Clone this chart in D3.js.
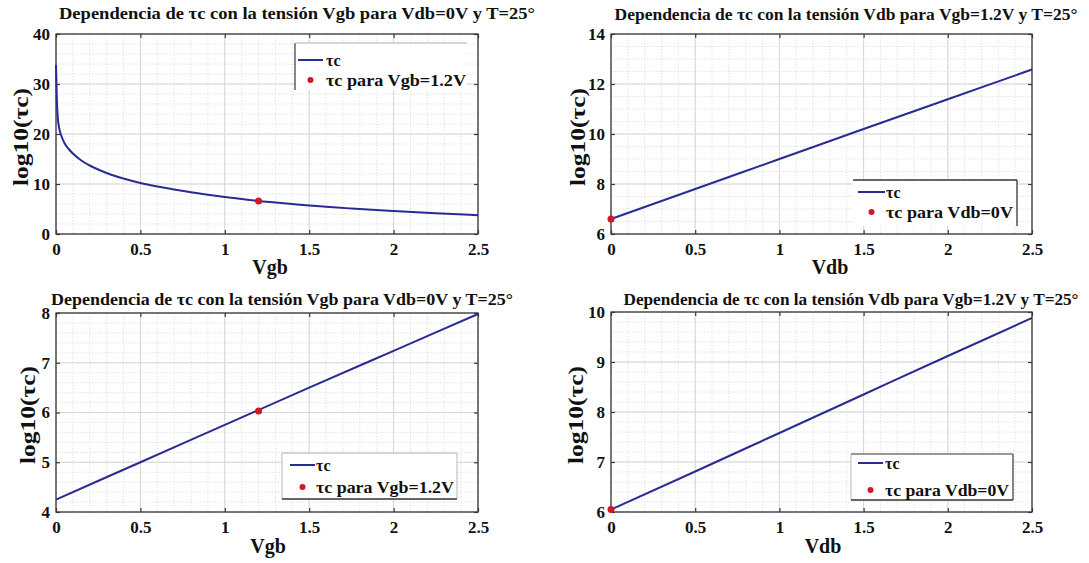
<!DOCTYPE html>
<html>
<head>
<meta charset="utf-8">
<script src="https://cdn.jsdelivr.net/npm/d3@7"></script>
<style>
  body { margin: 0; background: #fff; }
  svg { display: block; }
  text { font-family: 'Liberation Serif'; font-weight: bold; fill: #111; }
</style>
</head>
<body>
<svg id="fig" width="1089" height="563"></svg>
<script>
// ---- data -------------------------------------------------------------
// Shared x ticks (volts)
const xTickValues = [0, 0.5, 1, 1.5, 2, 2.5];
const xTickLabels = ["0", "0.5", "1", "1.5", "2", "2.5"];

// Panel A: log10(τc) vs Vgb, Vdb = 0 V
const vgbA = [0, 0.005, 0.01, 0.02, 0.03, 0.05, 0.075, 0.1, 0.15, 0.2, 0.3, 0.4, 0.5,
              0.6, 0.7, 0.8, 0.9, 1.0, 1.1, 1.2, 1.3, 1.4, 1.5, 1.75, 2.0, 2.25, 2.5];
const tauA = [33.8, 27.0, 23.5, 21.0, 19.8, 18.2, 17.0, 16.1, 14.7, 13.7, 12.2, 11.1, 10.2,
              9.5, 8.9, 8.35, 7.85, 7.4, 7.0, 6.6, 6.3, 6.0, 5.7, 5.1, 4.6, 4.15, 3.75];
const markA = [1.2, 6.6];
const yTicksA = [0, 10, 20, 30, 40];

// Panel B: log10(τc) vs Vdb, Vgb = 1.2 V
const vdbB = [0, 0.5, 1.0, 1.5, 2.0, 2.5];
const tauB = [6.6, 7.8, 9.0, 10.2, 11.39, 12.58];
const markB = [0, 6.6];
const yTicksB = [6, 8, 10, 12, 14];

// Panel C: log10(τc) vs Vgb, Vdb = 0 V
const vgbC = [0, 0.5, 1.0, 1.5, 2.0, 2.5];
const tauC = [4.25, 5.0, 5.75, 6.5, 7.24, 7.98];
const markC = [1.2, 6.03];
const yTicksC = [4, 5, 6, 7, 8];

// Panel D: log10(τc) vs Vdb, Vgb = 1.2 V
const vdbD = [0, 0.5, 1.0, 1.5, 2.0, 2.5];
const tauD = [6.05, 6.81, 7.58, 8.35, 9.12, 9.88];
const markD = [0, 6.05];
const yTicksD = [6, 7, 8, 9, 10];

// Texts
const titles = [
  "Dependencia de τc con la tensión Vgb para Vdb=0V y T=25°",
  "Dependencia de τc con la tensión Vdb para Vgb=1.2V y T=25°",
  "Dependencia de τc con la tensión Vgb para Vdb=0V y T=25°",
  "Dependencia de τc con la tensión Vdb para Vgb=1.2V y T=25°"
];
const xLabels = ["Vgb", "Vdb", "Vgb", "Vdb"];
const yLabel = "log10(τc)";
const legendLineText = "τc";
const legendMarkTexts = ["τc para Vgb=1.2V", "τc para Vdb=0V", "τc para Vgb=1.2V", "τc para Vdb=0V"];

// ---- layout -----------------------------------------------------------
const FONT = "'Liberation Serif'";
const layout = [
  { x0: 56, x1: 478, y0: 34, y1: 234, minorY: 2,
    title: { x: 297, y: 19, w: 476 }, ylab: { x: 21, y: 137 }, xlab: { x: 270, y: 274 },
    legend: { x0: 295, x1: 467, y0: 43, y1: 90, lineY: 60, dotY: 80, sx0: 298, sx1: 323, tx: 326, tw: 140,
              edges: { left: "#444", top: "#c8c8c8" } } },
  { x0: 611, x1: 1032, y0: 34, y1: 234, minorY: 0.5,
    title: { x: 846, y: 20, w: 463 }, ylab: { x: 578, y: 137 }, xlab: { x: 830, y: 274 },
    legend: { x0: 853, x1: 1017, y0: 180, y1: 226, lineY: 192, dotY: 212, sx0: 858, sx1: 885, tx: 886, tw: 127,
              edges: { top: "#333", right: "#333" } } },
  { x0: 56, x1: 478, y0: 313, y1: 512, minorY: 0.2,
    title: { x: 282, y: 305, w: 462 }, ylab: { x: 28, y: 415 }, xlab: { x: 268, y: 553 },
    legend: { x0: 282, x1: 457, y0: 453, y1: 499, lineY: 465, dotY: 487, sx0: 290, sx1: 315, tx: 316, tw: 138,
              edges: { left: "#c8c8c8", top: "#c8c8c8", right: "#c8c8c8", bottom: "#333" } } },
  { x0: 611, x1: 1032, y0: 312, y1: 512, minorY: 0.2,
    title: { x: 851, y: 305, w: 455 }, ylab: { x: 576, y: 415 }, xlab: { x: 823, y: 553 },
    legend: { x0: 851, x1: 1013, y0: 454, y1: 500, lineY: 463, dotY: 490, sx0: 858, sx1: 883, tx: 885, tw: 124,
              edges: { left: "#c8c8c8", top: "#777", right: "#444", bottom: "#333" } } }
];

const panels = [
  { xs: vgbA, ys: tauA, mark: markA, yTicks: yTicksA },
  { xs: vdbB, ys: tauB, mark: markB, yTicks: yTicksB },
  { xs: vgbC, ys: tauC, mark: markC, yTicks: yTicksC },
  { xs: vdbD, ys: tauD, mark: markD, yTicks: yTicksD }
];

const LINE_COLOR = "#2a2a95";
const DOT_COLOR = "#d4162a";
const AXIS_COLOR = "#3a3a3a";

const svg = d3.select("#fig");

function drawPanel(i) {
  const L = layout[i], P = panels[i];
  const g = svg.append("g");
  const x = d3.scaleLinear().domain([0, 2.5]).range([L.x0, L.x1]);
  const yDom = d3.extent(P.yTicks);
  const y = d3.scaleLinear().domain(yDom).range([L.y1, L.y0]);

  // minor grid
  const xMinor = d3.range(0, 26).map(k => k / 10);
  const nY = Math.round((yDom[1] - yDom[0]) / L.minorY);
  const yMinor = d3.range(0, nY + 1).map(k => yDom[0] + k * L.minorY);
  g.append("g").selectAll("line").data(xMinor).join("line")
    .attr("x1", d => x(d)).attr("x2", d => x(d)).attr("y1", L.y0).attr("y2", L.y1)
    .attr("stroke", "#e3e3e3").attr("stroke-width", 1).attr("stroke-dasharray", "1.5,1.5");
  g.append("g").selectAll("line").data(yMinor).join("line")
    .attr("x1", L.x0).attr("x2", L.x1).attr("y1", d => y(d)).attr("y2", d => y(d))
    .attr("stroke", "#e3e3e3").attr("stroke-width", 1).attr("stroke-dasharray", "1.5,1.5");

  // major grid
  g.append("g").selectAll("line").data(xTickValues).join("line")
    .attr("x1", d => x(d)).attr("x2", d => x(d)).attr("y1", L.y0).attr("y2", L.y1)
    .attr("stroke", "#d6d6d6").attr("stroke-width", 1);
  g.append("g").selectAll("line").data(P.yTicks).join("line")
    .attr("x1", L.x0).attr("x2", L.x1).attr("y1", d => y(d)).attr("y2", d => y(d))
    .attr("stroke", "#d6d6d6").attr("stroke-width", 1);

  // axes with inward ticks
  const bottom = g.append("g").attr("transform", `translate(0,${L.y1})`)
    .call(d3.axisBottom(x).tickValues(xTickValues).tickFormat((d, k) => xTickLabels[k])
      .tickSizeInner(-4).tickSizeOuter(0).tickPadding(9));
  const top = g.append("g").attr("transform", `translate(0,${L.y0})`)
    .call(d3.axisTop(x).tickValues(xTickValues).tickFormat("").tickSizeInner(-4).tickSizeOuter(0));
  const left = g.append("g").attr("transform", `translate(${L.x0},0)`)
    .call(d3.axisLeft(y).tickValues(P.yTicks).tickFormat(d3.format("d"))
      .tickSizeInner(-4).tickSizeOuter(0).tickPadding(6));
  const right = g.append("g").attr("transform", `translate(${L.x1},0)`)
    .call(d3.axisRight(y).tickValues(P.yTicks).tickFormat("").tickSizeInner(-4).tickSizeOuter(0));
  [bottom, top, left, right].forEach(a => {
    a.attr("font-family", FONT);
    a.select(".domain").remove();
    a.selectAll(".tick line").attr("stroke", AXIS_COLOR).attr("stroke-width", 1.2);
    a.selectAll(".tick text").attr("fill", "#111").attr("font-size", 17)
      .style("font-family", FONT).attr("font-weight", "bold");
  });

  // axes box
  g.append("rect").attr("x", L.x0).attr("y", L.y0)
    .attr("width", L.x1 - L.x0).attr("height", L.y1 - L.y0)
    .attr("fill", "none").attr("stroke", AXIS_COLOR).attr("stroke-width", 1.3);

  // data curve
  const pts = P.xs.map((v, k) => [v, P.ys[k]]);
  g.append("path").datum(pts)
    .attr("d", d3.line().x(d => x(d[0])).y(d => y(d[1])).curve(d3.curveMonotoneX))
    .attr("fill", "none").attr("stroke", LINE_COLOR).attr("stroke-width", 2);

  // highlighted point
  g.append("circle").attr("cx", x(P.mark[0])).attr("cy", y(P.mark[1])).attr("r", 3.5)
    .attr("fill", DOT_COLOR);

  // titles and labels
  g.append("text").attr("x", L.title.x).attr("y", L.title.y).attr("text-anchor", "middle")
    .attr("font-size", 16).attr("textLength", L.title.w).attr("lengthAdjust", "spacingAndGlyphs")
    .text(titles[i]);
  g.append("text").attr("transform", `translate(${L.ylab.x},${L.ylab.y}) rotate(-90)`)
    .attr("text-anchor", "middle").attr("dy", "0.35em").attr("font-size", 20)
    .attr("textLength", 98).attr("lengthAdjust", "spacingAndGlyphs").text(yLabel);
  g.append("text").attr("x", L.xlab.x).attr("y", L.xlab.y).attr("text-anchor", "middle")
    .attr("font-size", 20).text(xLabels[i]);

  // legend
  const G = L.legend;
  const lg = g.append("g");
  lg.append("rect").attr("x", G.x0).attr("y", G.y0).attr("width", G.x1 - G.x0).attr("height", G.y1 - G.y0)
    .attr("fill", "#fff");
  const E = G.edges;
  if (E.left) lg.append("line").attr("x1", G.x0).attr("x2", G.x0).attr("y1", G.y0).attr("y2", G.y1).attr("stroke", E.left).attr("stroke-width", 1.3);
  if (E.right) lg.append("line").attr("x1", G.x1).attr("x2", G.x1).attr("y1", G.y0).attr("y2", G.y1).attr("stroke", E.right).attr("stroke-width", 1.3);
  if (E.top) lg.append("line").attr("x1", G.x0).attr("x2", G.x1).attr("y1", G.y0).attr("y2", G.y0).attr("stroke", E.top).attr("stroke-width", 1.3);
  if (E.bottom) lg.append("line").attr("x1", G.x0).attr("x2", G.x1).attr("y1", G.y1).attr("y2", G.y1).attr("stroke", E.bottom).attr("stroke-width", 1.3);
  lg.append("line").attr("x1", G.sx0).attr("x2", G.sx1).attr("y1", G.lineY).attr("y2", G.lineY)
    .attr("stroke", LINE_COLOR).attr("stroke-width", 2);
  lg.append("circle").attr("cx", (G.sx0 + G.sx1) / 2).attr("cy", G.dotY).attr("r", 3).attr("fill", DOT_COLOR);
  lg.append("text").attr("x", G.tx).attr("y", G.lineY).attr("dy", "0.35em").attr("font-size", 16)
    .text(legendLineText);
  lg.append("text").attr("x", G.tx).attr("y", G.dotY).attr("dy", "0.35em").attr("font-size", 16)
    .attr("textLength", G.tw).attr("lengthAdjust", "spacingAndGlyphs").text(legendMarkTexts[i]);
}

layout.forEach((_, i) => drawPanel(i));
</script>
</body>
</html>
